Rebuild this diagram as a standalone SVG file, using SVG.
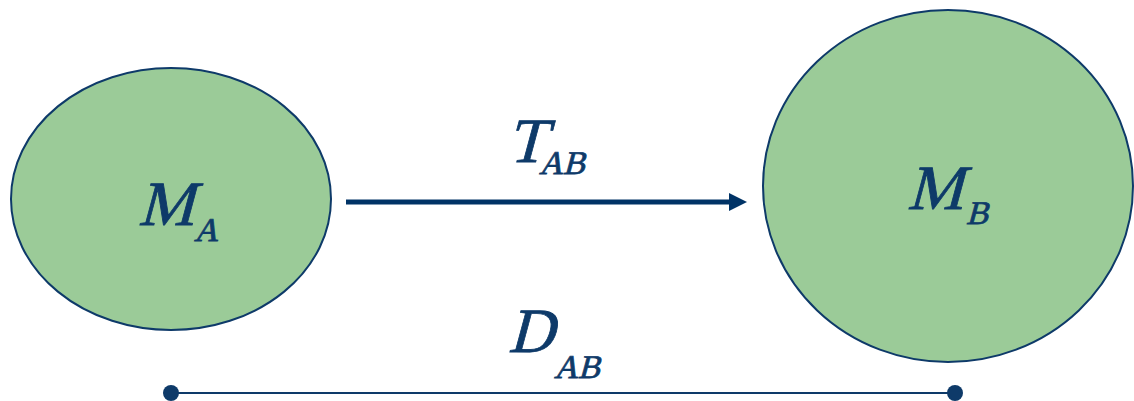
<svg xmlns="http://www.w3.org/2000/svg" width="1134" height="401" viewBox="0 0 1134 401">
<style>
.node{fill:#9BCB98;stroke:#0E3A69;stroke-width:2}
text{font-family:"Liberation Serif","Times New Roman",serif;fill:#0E3A69;stroke:#0E3A69;stroke-width:0.8}
.big{font-size:63px}
.sub{font-size:33px}
</style>
<defs>
<marker id="ah" markerWidth="18" markerHeight="18" refX="0" refY="9" markerUnits="userSpaceOnUse" orient="auto">
<path d="M0,0 L18,9 L0,18 Z" fill="#003366"/>
</marker>
</defs>
<rect width="1134" height="401" fill="#fff"/>
<g id="nodeA">
<ellipse class="node" cx="171" cy="199" rx="160" ry="131"/>
<text class="big" transform="translate(138,225) skewX(-15)">M</text>
<text class="sub" transform="translate(194,241) skewX(-15)">A</text>
</g>
<g id="nodeB">
<ellipse class="node" cx="948" cy="186" rx="185" ry="176"/>
<text class="big" transform="translate(907,209) skewX(-15)">M</text>
<text class="sub" transform="translate(966,224) skewX(-15)">B</text>
</g>
<g id="connectors">
<line x1="346" y1="202" x2="729" y2="202" stroke="#003366" stroke-width="5" marker-end="url(#ah)"/>
<line x1="171" y1="393" x2="955" y2="393" stroke="#0E3A69" stroke-width="2"/>
<circle cx="171" cy="393" r="8" fill="#0E3A69"/>
<circle cx="955" cy="393" r="8" fill="#0E3A69"/>
</g>
<g id="labels">
<text class="big" transform="translate(507,162) skewX(-15)">T</text>
<text class="sub" transform="translate(539,174) skewX(-15)">AB</text>
<text class="big" transform="translate(508,352) skewX(-15)">D</text>
<text class="sub" transform="translate(554,378) skewX(-15)">AB</text>
</g>
</svg>
